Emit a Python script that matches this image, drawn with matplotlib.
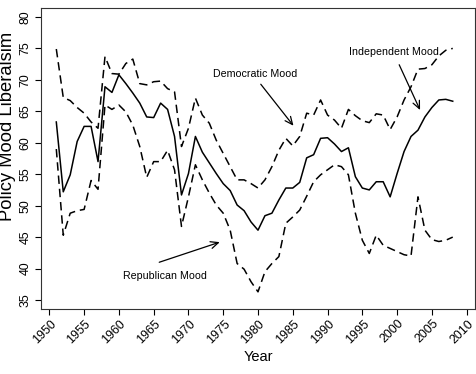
import matplotlib
matplotlib.use("Agg")
import matplotlib.pyplot as plt
from matplotlib.transforms import ScaledTranslation

plt.rcParams['font.family'] = ['Liberation Sans', 'DejaVu Sans']

years = list(range(1951, 2009))

overall_mood = [63.3, 52.2, 54.9, 60.2, 62.6, 62.6, 57.0, 68.9, 68.0, 70.8,
                69.4, 67.9, 66.3, 64.1, 64.0, 66.3, 65.3, 61.0, 51.7, 55.1,
                61.0, 58.5, 56.8, 55.1, 53.5, 52.4, 50.1, 49.2, 47.4, 46.1,
                48.4, 48.8, 50.9, 52.8, 52.8, 53.7, 57.6, 58.1, 60.7, 60.8,
                59.8, 58.6, 59.2, 54.6, 52.8, 52.5, 53.8, 53.8, 51.4, 55.1,
                58.6, 61.0, 62.0, 64.1, 65.6, 66.8, 66.9, 66.6]

democratic_mood = [74.9, 67.2, 66.7, 65.6, 64.7, 63.3, 62.3, 73.7, 71.0, 70.9,
                   72.6, 73.3, 69.4, 69.2, 69.7, 69.8, 68.6, 68.1, 59.4, 62.3,
                   67.1, 64.4, 63.1, 60.4, 58.3, 56.2, 54.1, 54.1, 53.5, 52.8,
                   54.1, 56.2, 58.8, 60.7, 59.5, 61.0, 64.7, 64.4, 66.8, 64.4,
                   63.6, 62.3, 65.3, 64.3, 63.5, 63.2, 64.6, 64.4, 62.1, 64.1,
                   66.8, 68.9, 71.7, 71.8, 72.4, 73.8, 74.7, 75.0]

republican_mood = [59.0, 45.3, 48.8, 49.2, 49.4, 54.0, 52.6, 66.0, 65.3, 66.0,
                   64.9, 62.8, 59.4, 54.5, 57.0, 57.0, 58.8, 55.7, 46.7, 51.4,
                   56.5, 54.1, 52.0, 50.1, 48.8, 46.1, 40.8, 39.9, 37.9, 36.3,
                   39.5, 40.8, 41.9, 47.2, 48.2, 49.3, 51.5, 53.8, 54.9, 55.7,
                   56.5, 56.2, 54.9, 48.8, 44.5, 42.4, 45.3, 43.7, 43.2, 42.7,
                   42.2, 42.0, 51.4, 46.1, 44.6, 44.3, 44.5, 45.0]

xticks = list(range(1950, 2011, 5))
yticks = list(range(35, 81, 5))

fig = plt.figure(figsize=(4.77, 3.74), dpi=100)
ax = fig.add_axes([41/477, 65/374, 434/477, 301.5/374])

dash = (0, (5.5, 3.2))
ax.plot(years, overall_mood, color='black', lw=1.1)
ax.plot(years, democratic_mood, color='black', lw=1.1, linestyle=dash)
ax.plot(years, republican_mood, color='black', lw=1.1, linestyle=dash)

ax.set_xlim(1948.8, 2011.2)
ax.set_ylim(33.57, 81.5)
ax.set_xticks(xticks)
ax.set_yticks(yticks)
ax.set_xticklabels([str(x) for x in xticks])
ax.set_yticklabels([str(y) for y in yticks])
ax.tick_params(axis='both', length=4.3, width=0.8, labelsize=8.9, color='black')
ax.tick_params(axis='x', pad=5)
ax.tick_params(axis='y', pad=2.5)
for lab in ax.get_yticklabels():
    lab.set_rotation(90)
    lab.set_va('center')
offset = ScaledTranslation(3.5/72, 0, fig.dpi_scale_trans)
for lab in ax.get_xticklabels():
    lab.set_rotation(45)
    lab.set_ha('right')
    lab.set_va('center')
    lab.set_rotation_mode('anchor')
    lab.set_transform(lab.get_transform() + offset)

for s in ax.spines.values():
    s.set_linewidth(0.8)
    s.set_color('#333333')

fig.text(258/477, 1 - 357/374, 'Year', ha='center', va='center', fontsize=10.5)
fig.text(8/477, 1 - 126/374, 'Policy Mood Liberalsim', ha='center', va='center',
         rotation=90, fontsize=13.2)

arrow = dict(arrowstyle='->,head_length=0.55,head_width=0.25', color='black',
             lw=0.9, shrinkA=0, shrinkB=0)
ax.text(1979.6, 70.9, 'Democratic Mood', ha='center', va='center', fontsize=7.7)
ax.annotate('', xy=(1985.1, 62.7), xytext=(1980.4, 69.3), arrowprops=arrow)
ax.text(1966.6, 38.8, 'Republican Mood', ha='center', va='center', fontsize=7.7)
ax.annotate('', xy=(1974.5, 44.2), xytext=(1965.8, 41.0), arrowprops=arrow)
ax.text(1999.5, 74.4, 'Independent Mood', ha='center', va='center', fontsize=7.7)
ax.annotate('', xy=(2003.3, 65.2), xytext=(2000.3, 72.4), arrowprops=arrow)

fig.savefig('out.png', dpi=100)
